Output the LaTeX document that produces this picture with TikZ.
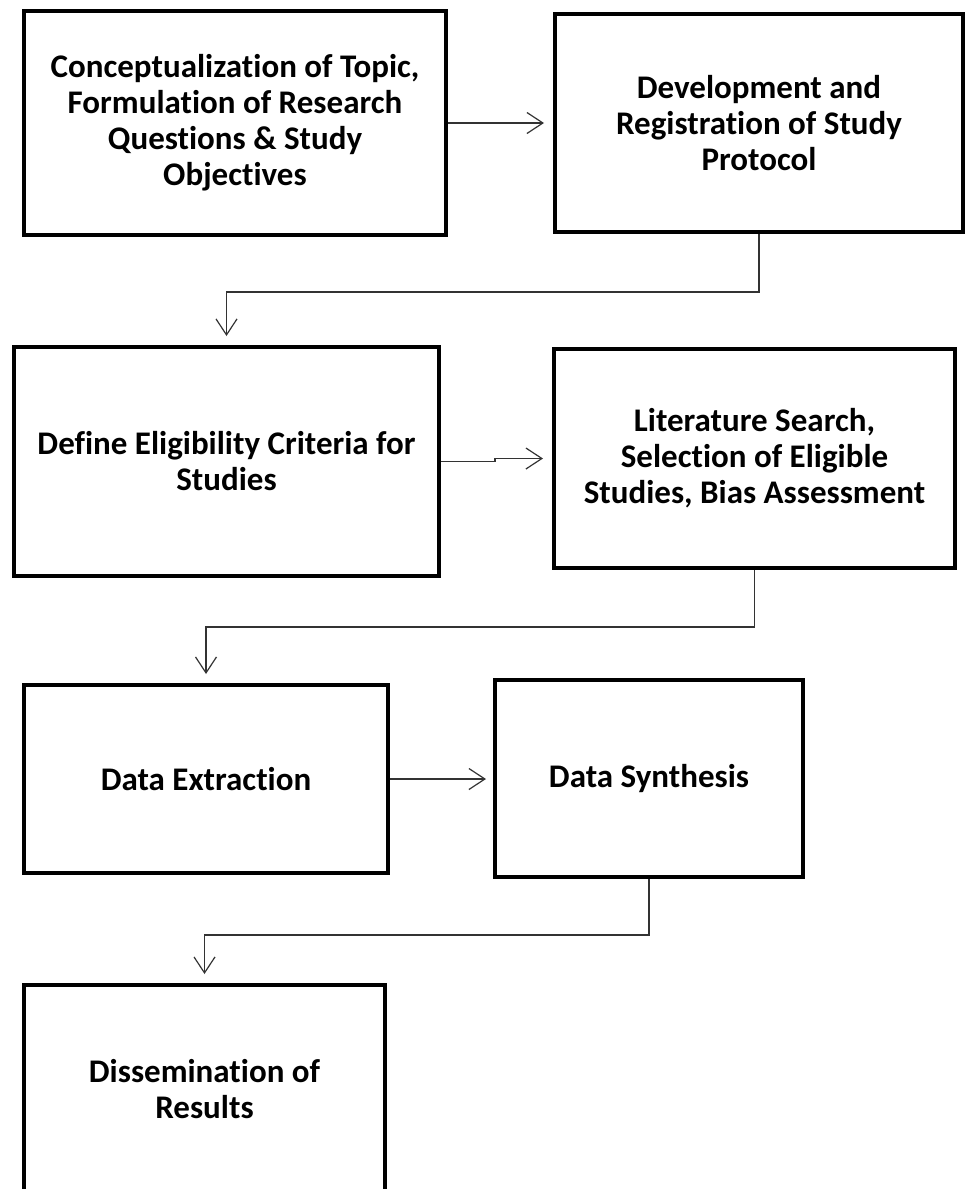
\documentclass[tikz,border=0pt]{standalone}
\usepackage{fontspec}
\setmainfont{Carlito}[Ligatures=NoCommon]
\usetikzlibrary{arrows.meta}
\tikzset{
  stepbox/.style={draw, rectangle, line width=4pt, align=center, inner sep=0pt,
    font=\fontsize{33}{36}\selectfont\bfseries},
  flow/.style={draw=black!80, line width=1.2pt,
    -{Straight Barb[length=16pt,width=21pt]}, shorten >=9pt},
}
\begin{document}
\begin{tikzpicture}[x=1pt,y=-1pt]
    \useasboundingbox (0,0) rectangle (967,1189);

    \node[stepbox, minimum width=422pt, minimum height=224pt] (concept)  at (235,   123)  {Conceptualization of Topic,\\ Formulation of Research\\ Questions \& Study\\ Objectives};
    \node[stepbox, minimum width=408pt, minimum height=218pt] (protocol) at (759,   123)  {Development and\\ Registration of Study\\ Protocol};
    \node[stepbox, minimum width=425pt, minimum height=229pt] (criteria) at (226.5, 461.5) {Define Eligibility Criteria for\\ Studies};
    \node[stepbox, minimum width=401pt, minimum height=219pt] (search)   at (754.5, 458.5) {Literature Search,\\ Selection of Eligible\\ Studies, Bias Assessment};
    \node[stepbox, minimum width=364pt, minimum height=188pt] (extract)  at (206,   779)  {Data Extraction};
    \node[stepbox, minimum width=308pt, minimum height=197pt] (synth)    at (649,   778.5) {Data Synthesis};
    \node[stepbox, minimum width=361pt, minimum height=208pt] (dissem)   at (204.5, 1089) {Dissemination of\\ Results};

    \draw[flow] (concept) -- (protocol);
    \draw[flow] (protocol.south) -- ++(0,58) -| (criteria.north);
    \draw[flow] (criteria.east) -- ++(54,0) -- ++(0,-3) -- (search.west);
    \draw[flow] (search.south) -- ++(0,57) -| (extract.north);
    \draw[flow, shorten >=7pt] (extract.east) -- (extract.east -| synth.west);
    \draw[flow] (synth.south) -- ++(0,56) -| (dissem.north);
\end{tikzpicture}
\end{document}
